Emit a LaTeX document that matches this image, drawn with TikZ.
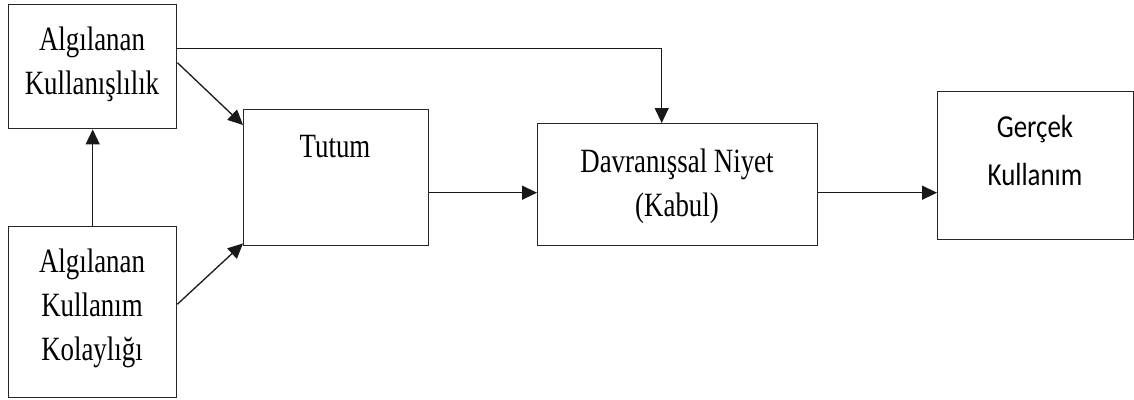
\documentclass[tikz,border=0pt]{standalone}
\usepackage{fontspec}
\usepackage{graphicx}
\setmainfont{Liberation Serif}
\newfontfamily\calibfont{Carlito}
\usetikzlibrary{arrows.meta,calc}
\newcommand\narrow[1]{\scalebox{0.79}[1]{#1}}
\newcommand\narrowsans[1]{\scalebox{0.84}[1]{#1}}
\begin{document}
\begin{tikzpicture}[x=1pt,y=-1pt,
  box/.style={draw=black!85,line width=1.4pt,inner sep=0pt,anchor=north west},
  lbl/.style={align=center,inner sep=0pt,font=\fontsize{34}{44}\selectfont},
  lblsans/.style={align=center,inner sep=0pt,font=\calibfont\fontsize{32}{48}\selectfont},
  arr/.style={-{Triangle[length=15pt,width=14pt]},line width=1.3pt,draw=black!90}]
\useasboundingbox (0,0) rectangle (1134,399);

% boxes
\node[box,minimum width=168pt,minimum height=124pt] (A) at (8,4) {};
\node[box,minimum width=168pt,minimum height=171pt] (B) at (8,226) {};
\node[box,minimum width=185pt,minimum height=136pt] (T) at (243,109) {};
\node[box,minimum width=280pt,minimum height=122pt] (D) at (537,123) {};
\node[box,minimum width=196pt,minimum height=148pt] (G) at (937,91) {};

% labels
\node[lbl] (Atxt) at (92,64) {\narrow{Algılanan}\\\narrow{Kullanışlılık}};
\node[lbl] (Btxt) at (92,308) {\narrow{Algılanan}\\\narrow{Kullanım}\\\narrow{Kolaylığı}};
\node[lbl] (Ttxt) at (335,147) {\narrow{Tutum}};
\node[lbl] (Dtxt) at (677,186) {\narrow{Davranışsal Niyet}\\\narrow{(Kabul)}};
\node[lblsans] (Gtxt) at (1035,151) {\narrowsans{Gerçek}\\\narrowsans{Kullanım}};

% connectors
\draw[arr] (B.north) -- (A.south);
\draw[arr] ([yshift=4pt]A.east) -- ([yshift=-16pt]T.north west);
\draw[arr] ([yshift=8pt]B.east) -- ([yshift=3pt]T.south west);
\coordinate (top) at ([yshift=18pt]A.east);
\coordinate (drop) at ([xshift=-16pt]D.north);
\draw[arr] (top) -| (drop);
\coordinate (m1) at ([yshift=-15pt]T.east);
\draw[arr] (m1) -- (m1 -| D.west);
\coordinate (m2) at ([yshift=-8pt]D.east);
\draw[arr] (m2) -- (m2 -| G.west);
\end{tikzpicture}
\end{document}
